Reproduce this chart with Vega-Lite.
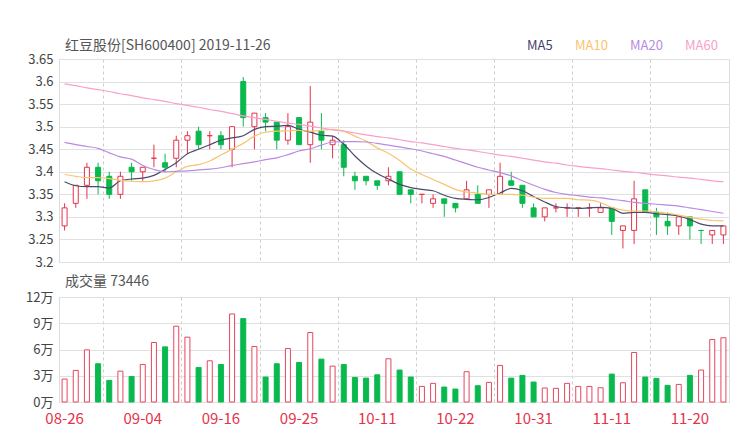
{
  "$schema": "https://vega.github.io/schema/vega-lite/v6.json",
  "padding": {"left": 25, "top": 38, "right": 8, "bottom": 5},
  "spacing": 4,
  "config": {
    "font": "Noto Sans CJK SC",
    "view": {"stroke": "#dddddd", "strokeWidth": 1},
    "axis": {"labelFont": "Noto Sans CJK SC", "domain": false, "ticks": false},
    "axisY": {"labelOverlap": false}
  },
  "resolve": {"scale": {"color": "independent"}, "legend": {"color": "independent"}},
  "datasets": {
    "k": [
      {"date":"08-26","open":3.28,"high":3.33,"low":3.27,"close":3.32,"dir":"up","vol":26200,"MA5":3.378,"MA10":3.394,"MA20":3.465,"MA60":3.595},
      {"date":"08-27","open":3.33,"high":3.37,"low":3.32,"close":3.37,"dir":"up","vol":36100,"MA5":3.369,"MA10":3.390,"MA20":3.460,"MA60":3.591},
      {"date":"08-28","open":3.37,"high":3.42,"low":3.34,"close":3.41,"dir":"up","vol":59600,"MA5":3.367,"MA10":3.387,"MA20":3.456,"MA60":3.586},
      {"date":"08-29","open":3.41,"high":3.42,"low":3.35,"close":3.38,"dir":"down","vol":43700,"MA5":3.367,"MA10":3.387,"MA20":3.452,"MA60":3.582},
      {"date":"08-30","open":3.39,"high":3.40,"low":3.34,"close":3.35,"dir":"down","vol":24700,"MA5":3.364,"MA10":3.385,"MA20":3.442,"MA60":3.578},
      {"date":"09-02","open":3.35,"high":3.40,"low":3.34,"close":3.39,"dir":"up","vol":35300,"MA5":3.380,"MA10":3.381,"MA20":3.433,"MA60":3.573},
      {"date":"09-03","open":3.41,"high":3.42,"low":3.38,"close":3.40,"dir":"down","vol":29200,"MA5":3.384,"MA10":3.379,"MA20":3.428,"MA60":3.569},
      {"date":"09-04","open":3.40,"high":3.41,"low":3.38,"close":3.41,"dir":"up","vol":42900,"MA5":3.386,"MA10":3.378,"MA20":3.414,"MA60":3.564},
      {"date":"09-05","open":3.43,"high":3.46,"low":3.41,"close":3.43,"dir":"up","vol":68000,"MA5":3.392,"MA10":3.380,"MA20":3.405,"MA60":3.560},
      {"date":"09-06","open":3.42,"high":3.44,"low":3.40,"close":3.41,"dir":"down","vol":63000,"MA5":3.405,"MA10":3.386,"MA20":3.400,"MA60":3.556},
      {"date":"09-09","open":3.43,"high":3.48,"low":3.41,"close":3.47,"dir":"up","vol":86600,"MA5":3.420,"MA10":3.400,"MA20":3.401,"MA60":3.551},
      {"date":"09-10","open":3.47,"high":3.49,"low":3.44,"close":3.48,"dir":"up","vol":74100,"MA5":3.440,"MA10":3.412,"MA20":3.402,"MA60":3.547},
      {"date":"09-11","open":3.49,"high":3.50,"low":3.45,"close":3.46,"dir":"down","vol":39500,"MA5":3.450,"MA10":3.416,"MA20":3.404,"MA60":3.543},
      {"date":"09-12","open":3.48,"high":3.49,"low":3.45,"close":3.48,"dir":"up","vol":47100,"MA5":3.460,"MA10":3.424,"MA20":3.406,"MA60":3.538},
      {"date":"09-16","open":3.48,"high":3.49,"low":3.45,"close":3.46,"dir":"down","vol":42900,"MA5":3.470,"MA10":3.437,"MA20":3.409,"MA60":3.534},
      {"date":"09-17","open":3.45,"high":3.50,"low":3.41,"close":3.50,"dir":"up","vol":100600,"MA5":3.475,"MA10":3.450,"MA20":3.414,"MA60":3.529},
      {"date":"09-18","open":3.60,"high":3.61,"low":3.50,"close":3.52,"dir":"down","vol":95300,"MA5":3.480,"MA10":3.463,"MA20":3.418,"MA60":3.524},
      {"date":"09-19","open":3.50,"high":3.53,"low":3.45,"close":3.53,"dir":"up","vol":63400,"MA5":3.494,"MA10":3.479,"MA20":3.422,"MA60":3.520},
      {"date":"09-20","open":3.52,"high":3.53,"low":3.49,"close":3.51,"dir":"down","vol":28500,"MA5":3.500,"MA10":3.488,"MA20":3.427,"MA60":3.516},
      {"date":"09-23","open":3.51,"high":3.51,"low":3.45,"close":3.47,"dir":"down","vol":43700,"MA5":3.501,"MA10":3.490,"MA20":3.431,"MA60":3.512},
      {"date":"09-24","open":3.47,"high":3.53,"low":3.46,"close":3.50,"dir":"up","vol":61100,"MA5":3.503,"MA10":3.491,"MA20":3.438,"MA60":3.508},
      {"date":"09-25","open":3.52,"high":3.52,"low":3.46,"close":3.46,"dir":"down","vol":45200,"MA5":3.494,"MA10":3.492,"MA20":3.446,"MA60":3.505},
      {"date":"09-26","open":3.46,"high":3.59,"low":3.42,"close":3.51,"dir":"up","vol":79400,"MA5":3.488,"MA10":3.490,"MA20":3.451,"MA60":3.501},
      {"date":"09-27","open":3.49,"high":3.53,"low":3.45,"close":3.47,"dir":"down","vol":49000,"MA5":3.481,"MA10":3.492,"MA20":3.459,"MA60":3.497},
      {"date":"09-30","open":3.46,"high":3.48,"low":3.43,"close":3.47,"dir":"up","vol":41000,"MA5":3.479,"MA10":3.494,"MA20":3.466,"MA60":3.493},
      {"date":"10-08","open":3.46,"high":3.47,"low":3.39,"close":3.41,"dir":"down","vol":42900,"MA5":3.461,"MA10":3.490,"MA20":3.467,"MA60":3.490},
      {"date":"10-09","open":3.39,"high":3.40,"low":3.36,"close":3.38,"dir":"down","vol":28100,"MA5":3.435,"MA10":3.479,"MA20":3.467,"MA60":3.486},
      {"date":"10-10","open":3.39,"high":3.39,"low":3.37,"close":3.38,"dir":"down","vol":27300,"MA5":3.413,"MA10":3.468,"MA20":3.466,"MA60":3.482},
      {"date":"10-11","open":3.38,"high":3.38,"low":3.36,"close":3.37,"dir":"down","vol":31100,"MA5":3.396,"MA10":3.453,"MA20":3.463,"MA60":3.478},
      {"date":"10-14","open":3.38,"high":3.41,"low":3.37,"close":3.39,"dir":"up","vol":49400,"MA5":3.384,"MA10":3.441,"MA20":3.459,"MA60":3.475},
      {"date":"10-15","open":3.40,"high":3.40,"low":3.35,"close":3.35,"dir":"down","vol":36500,"MA5":3.372,"MA10":3.425,"MA20":3.455,"MA60":3.471},
      {"date":"10-16","open":3.36,"high":3.36,"low":3.33,"close":3.35,"dir":"down","vol":28500,"MA5":3.365,"MA10":3.406,"MA20":3.451,"MA60":3.467},
      {"date":"10-17","open":3.35,"high":3.35,"low":3.33,"close":3.35,"dir":"up","vol":17800,"MA5":3.361,"MA10":3.394,"MA20":3.446,"MA60":3.464},
      {"date":"10-18","open":3.33,"high":3.35,"low":3.32,"close":3.34,"dir":"up","vol":21300,"MA5":3.358,"MA10":3.383,"MA20":3.440,"MA60":3.460},
      {"date":"10-21","open":3.34,"high":3.34,"low":3.30,"close":3.33,"dir":"down","vol":17100,"MA5":3.348,"MA10":3.372,"MA20":3.434,"MA60":3.456},
      {"date":"10-22","open":3.33,"high":3.33,"low":3.31,"close":3.32,"dir":"down","vol":14800,"MA5":3.341,"MA10":3.361,"MA20":3.426,"MA60":3.452},
      {"date":"10-23","open":3.34,"high":3.38,"low":3.34,"close":3.36,"dir":"up","vol":34600,"MA5":3.339,"MA10":3.355,"MA20":3.418,"MA60":3.449},
      {"date":"10-24","open":3.35,"high":3.37,"low":3.33,"close":3.33,"dir":"down","vol":18600,"MA5":3.338,"MA10":3.353,"MA20":3.410,"MA60":3.445},
      {"date":"10-25","open":3.35,"high":3.36,"low":3.32,"close":3.36,"dir":"up","vol":22400,"MA5":3.343,"MA10":3.350,"MA20":3.404,"MA60":3.441},
      {"date":"10-28","open":3.35,"high":3.42,"low":3.35,"close":3.39,"dir":"up","vol":41800,"MA5":3.353,"MA10":3.350,"MA20":3.398,"MA60":3.437},
      {"date":"10-29","open":3.38,"high":3.40,"low":3.37,"close":3.37,"dir":"down","vol":27300,"MA5":3.363,"MA10":3.350,"MA20":3.391,"MA60":3.434},
      {"date":"10-30","open":3.37,"high":3.37,"low":3.32,"close":3.33,"dir":"down","vol":30400,"MA5":3.358,"MA10":3.348,"MA20":3.380,"MA60":3.430},
      {"date":"10-31","open":3.32,"high":3.33,"low":3.30,"close":3.30,"dir":"down","vol":22800,"MA5":3.345,"MA10":3.344,"MA20":3.370,"MA60":3.426},
      {"date":"11-01","open":3.30,"high":3.32,"low":3.29,"close":3.32,"dir":"up","vol":16000,"MA5":3.333,"MA10":3.341,"MA20":3.361,"MA60":3.422},
      {"date":"11-04","open":3.32,"high":3.33,"low":3.31,"close":3.32,"dir":"up","vol":15600,"MA5":3.323,"MA10":3.341,"MA20":3.354,"MA60":3.419},
      {"date":"11-05","open":3.32,"high":3.33,"low":3.30,"close":3.32,"dir":"up","vol":21300,"MA5":3.320,"MA10":3.341,"MA20":3.350,"MA60":3.415},
      {"date":"11-06","open":3.32,"high":3.32,"low":3.30,"close":3.32,"dir":"up","vol":17800,"MA5":3.319,"MA10":3.338,"MA20":3.347,"MA60":3.412},
      {"date":"11-07","open":3.32,"high":3.33,"low":3.30,"close":3.32,"dir":"up","vol":17800,"MA5":3.320,"MA10":3.337,"MA20":3.344,"MA60":3.409},
      {"date":"11-08","open":3.31,"high":3.33,"low":3.31,"close":3.32,"dir":"up","vol":16300,"MA5":3.321,"MA10":3.332,"MA20":3.342,"MA60":3.407},
      {"date":"11-11","open":3.32,"high":3.32,"low":3.26,"close":3.29,"dir":"down","vol":31900,"MA5":3.319,"MA10":3.321,"MA20":3.339,"MA60":3.404},
      {"date":"11-12","open":3.27,"high":3.28,"low":3.23,"close":3.28,"dir":"up","vol":22000,"MA5":3.308,"MA10":3.315,"MA20":3.336,"MA60":3.401},
      {"date":"11-13","open":3.27,"high":3.38,"low":3.24,"close":3.34,"dir":"up","vol":56600,"MA5":3.310,"MA10":3.313,"MA20":3.332,"MA60":3.399},
      {"date":"11-14","open":3.36,"high":3.36,"low":3.31,"close":3.31,"dir":"down","vol":28500,"MA5":3.310,"MA10":3.313,"MA20":3.330,"MA60":3.396},
      {"date":"11-15","open":3.31,"high":3.32,"low":3.26,"close":3.30,"dir":"down","vol":27000,"MA5":3.307,"MA10":3.311,"MA20":3.328,"MA60":3.393},
      {"date":"11-18","open":3.29,"high":3.31,"low":3.26,"close":3.28,"dir":"down","vol":19000,"MA5":3.305,"MA10":3.308,"MA20":3.326,"MA60":3.391},
      {"date":"11-19","open":3.28,"high":3.30,"low":3.26,"close":3.30,"dir":"up","vol":20100,"MA5":3.302,"MA10":3.304,"MA20":3.324,"MA60":3.388},
      {"date":"11-20","open":3.30,"high":3.30,"low":3.25,"close":3.28,"dir":"down","vol":30400,"MA5":3.294,"MA10":3.299,"MA20":3.320,"MA60":3.386},
      {"date":"11-21","open":3.27,"high":3.27,"low":3.24,"close":3.27,"dir":"down","vol":36500,"MA5":3.284,"MA10":3.295,"MA20":3.316,"MA60":3.383},
      {"date":"11-22","open":3.26,"high":3.27,"low":3.24,"close":3.27,"dir":"up","vol":71400,"MA5":3.280,"MA10":3.292,"MA20":3.312,"MA60":3.380},
      {"date":"11-25","open":3.26,"high":3.28,"low":3.24,"close":3.28,"dir":"up","vol":73446,"MA5":3.280,"MA10":3.291,"MA20":3.308,"MA60":3.378}
    ]
  },
  "vconcat": [
    {
      "width": 670,
      "height": 203,
      "title": {"text": "红豆股份[SH600400] 2019-11-26", "anchor": "start", "frame": "group", "fontSize": 14, "fontWeight": "normal", "color": "#555555", "dx": 6, "offset": -14, "font": "Noto Sans CJK SC"},
      "data": {"name": "k"},
      "encoding": {
        "x": {"field": "date", "type": "ordinal", "title": null, "scale": {"paddingInner": 0, "paddingOuter": 0},
          "axis": {"orient": "bottom", "labels": false, "ticks": false, "domain": false, "grid": true, "gridDash": [3, 3], "gridColor": "#cccccc", "bandPosition": 0,
            "values": ["08-30", "09-10", "09-20", "10-08", "10-17", "10-28", "11-06", "11-15"]}}
      },
      "layer": [
        {
          "mark": {"type": "rule", "strokeWidth": 1},
          "encoding": {
            "y": {"field": "low", "type": "quantitative", "title": null,
              "scale": {"domain": [3.2, 3.65], "nice": false, "zero": false},
              "axis": {"values": [3.2, 3.25, 3.3, 3.35, 3.4, 3.45, 3.5, 3.55, 3.6, 3.65], "format": "~g", "labelFontSize": 13, "labelColor": "#444444", "labelPadding": 6, "labelOverlap": false, "grid": true, "gridColor": "#e0e0e0", "domain": false, "ticks": false, "labelFlush": false}},
            "y2": {"field": "high"},
            "stroke": {"condition": {"test": "datum.dir === 'up'", "value": "#e5334b"}, "value": "#0ab94e"}
          }
        },
        {
          "mark": {"type": "bar", "width": 5, "strokeWidth": 1},
          "encoding": {
            "y": {"field": "open", "type": "quantitative", "title": null,
              "axis": {"values": [3.2, 3.25, 3.3, 3.35, 3.4, 3.45, 3.5, 3.55, 3.6, 3.65], "format": "~g", "labelFontSize": 13, "labelColor": "#444444", "labelPadding": 6, "labelOverlap": false, "grid": true, "gridColor": "#e0e0e0", "domain": false, "ticks": false, "labelFlush": false}},
            "y2": {"field": "close"},
            "fill": {"condition": {"test": "datum.dir === 'up'", "value": "#ffffff"}, "value": "#0ab94e"},
            "stroke": {"condition": {"test": "datum.dir === 'up'", "value": "#e5334b"}, "value": "#0ab94e"}
          }
        },
        {
          "transform": [{"fold": ["MA5", "MA10", "MA20", "MA60"], "as": ["key", "value"]}],
          "mark": {"type": "line", "interpolate": "monotone", "strokeWidth": 1.2},
          "encoding": {
            "y": {"field": "value", "type": "quantitative", "title": null,
              "axis": {"values": [3.2, 3.25, 3.3, 3.35, 3.4, 3.45, 3.5, 3.55, 3.6, 3.65], "format": "~g", "labelFontSize": 13, "labelColor": "#444444", "labelPadding": 6, "labelOverlap": false, "grid": true, "gridColor": "#e0e0e0", "domain": false, "ticks": false, "labelFlush": false}},
            "color": {"field": "key", "type": "nominal",
              "scale": {"domain": ["MA5", "MA10", "MA20", "MA60"], "range": ["#4a4a6c", "#f9c46f", "#b98ae4", "#f8a0cb"]},
              "legend": {"orient": "none", "legendX": 455, "legendY": -20, "direction": "horizontal", "title": null,
                "symbolSize": 0, "symbolStrokeWidth": 0, "symbolOpacity": 0, "labelOffset": 0, "labelFontSize": 13, "columnPadding": 9, "labelFont": "Noto Sans CJK SC",
                "encode": {"labels": {"update": {"fill": {"signal": "datum.label === 'MA5' ? '#44446a' : datum.label === 'MA10' ? '#f8c46e' : datum.label === 'MA20' ? '#b88ae3' : '#f7a1cd'"}}}}}
            }
          }
        }
      ]
    },
    {
      "width": 670,
      "height": 105,
      "title": {"text": "成交量 73446", "anchor": "start", "frame": "group", "fontSize": 14, "fontWeight": "normal", "color": "#555555", "dx": 6, "offset": 2, "font": "Noto Sans CJK SC"},
      "data": {"name": "k"},
      "encoding": {
        "y": {"field": "vol", "type": "quantitative", "title": null,
          "scale": {"domain": [0, 120000], "nice": false},
          "axis": {"values": [0, 30000, 60000, 90000, 120000], "labelExpr": "(datum.value / 10000) + '万'", "labelFontSize": 13, "labelColor": "#444444", "labelPadding": 6, "labelOverlap": false, "grid": true, "gridColor": "#e0e0e0", "domain": false, "ticks": false, "labelFlush": false}}
      },
      "layer": [
        {
          "transform": [{"filter": "datum.close >= datum.open"}],
          "mark": {"type": "bar", "width": 5, "strokeWidth": 1, "fill": "#ffffff", "stroke": "#e6465d"},
          "encoding": {
            "x": {"field": "date", "type": "ordinal", "title": null, "scale": {"paddingInner": 0, "paddingOuter": 0},
              "axis": {"orient": "bottom", "labelAngle": 0, "labelColor": "#e5334b", "labelFontSize": 15, "labelPadding": 9, "ticks": false, "domain": false, "grid": false,
                "values": ["08-26", "09-04", "09-16", "09-25", "10-11", "10-22", "10-31", "11-11", "11-20"]}}
          }
        },
        {
          "transform": [{"filter": "datum.close < datum.open"}],
          "mark": {"type": "bar", "width": 5, "strokeWidth": 1, "fill": "#0ab94e", "stroke": "#0ab94e"},
          "encoding": {
            "x": {"field": "date", "type": "ordinal", "title": null, "scale": {"paddingInner": 0, "paddingOuter": 0},
              "axis": {"orient": "top", "labels": false, "ticks": false, "domain": false, "grid": true, "gridDash": [3, 3], "gridColor": "#cccccc", "bandPosition": 0,
                "values": ["08-30", "09-10", "09-20", "10-08", "10-17", "10-28", "11-06", "11-15"]}}
          }
        }
      ]
    }
  ]
}
